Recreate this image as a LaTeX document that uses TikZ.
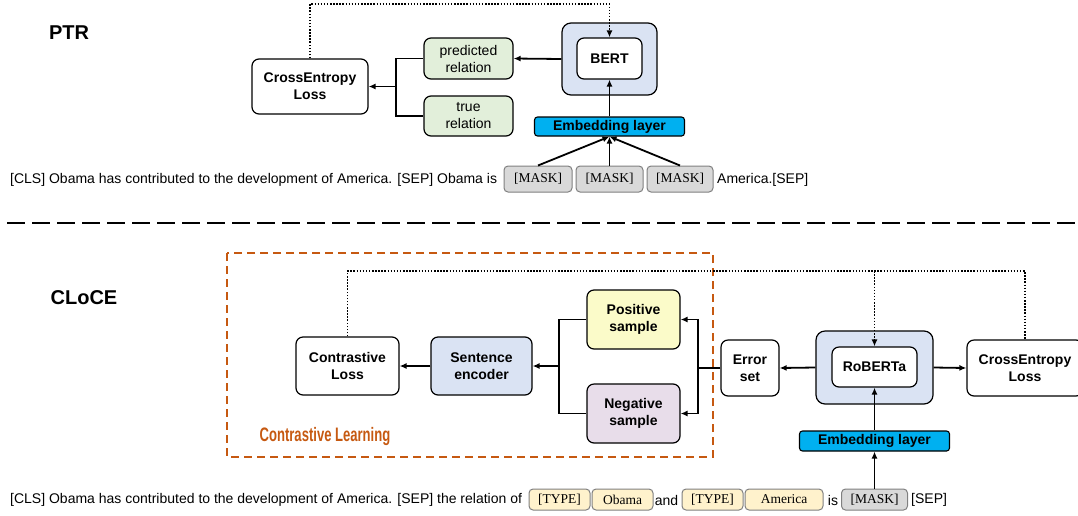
\documentclass[tikz,border=0pt]{standalone}
\usepackage{fontspec}
\setmainfont{Liberation Sans}
\newfontfamily\tnr{Liberation Serif}
\usetikzlibrary{arrows.meta}
\definecolor{bluefill}{HTML}{DAE3F3}
\definecolor{embcyan}{HTML}{00B0F0}
\definecolor{greenfill}{HTML}{E2EFDA}
\definecolor{yellowfill}{HTML}{FBFBC9}
\definecolor{purplefill}{HTML}{E8DDEA}
\definecolor{typefill}{HTML}{FFF2CC}
\definecolor{maskfill}{HTML}{D9D9D9}
\definecolor{greyborder}{HTML}{808080}
\definecolor{orangeline}{HTML}{C65911}
\tikzset{
  box/.style={draw=black, line width=1.2pt, rounded corners=7pt, align=center, inner sep=0pt,
    font=\fontsize{14}{17}\selectfont\bfseries, fill=white},
  plainbox/.style={box, font=\fontsize{14}{17}\selectfont},
  embbox/.style={draw=black, line width=1.1pt, rounded corners=3pt, fill=embcyan, inner sep=0pt,
    font=\fontsize{14}{16}\selectfont\bfseries},
  tokbox/.style={draw=greyborder, line width=1pt, rounded corners=4pt, inner sep=0pt,
    font=\fontsize{13.5}{15}\selectfont\tnr},
  masktok/.style={tokbox, fill=maskfill},
  typetok/.style={tokbox, fill=typefill},
  sent/.style={inner sep=0pt, font=\fontsize{14}{16}\selectfont},
  title/.style={inner sep=0pt, font=\fontsize{20}{22}\selectfont\bfseries},
  arr/.style={line width=1.8pt, -{Latex[length=7pt,width=6pt]}},
  ln/.style={line width=1.8pt},
  dotln/.style={line width=1.5pt, dash pattern=on 1.5pt off 1.6pt},
  dotarr/.style={dotln, -{Latex[length=7pt,width=6pt]}},
}
\begin{document}
\begin{tikzpicture}[x=1pt,y=-1pt]
\useasboundingbox (0,0) rectangle (1078,515);
\clip (0,0) rectangle (1078,515);

% ---------------- PTR ----------------
\node[title] (ptr) at (69,33) {PTR};
\node[box, fill=bluefill, rounded corners=9pt, minimum width=95pt, minimum height=72pt] (bertout) at (609.5,59) {};
\node[box, minimum width=65pt, minimum height=41pt] (bert) at (609.5,58.5) {BERT};
\node[plainbox, fill=greenfill, minimum width=89pt, minimum height=41pt] (pred) at (468.5,58.5) {predicted\\relation};
\node[plainbox, fill=greenfill, minimum width=89pt, minimum height=40pt] (true) at (468.5,116) {true\\relation};
\node[box, minimum width=116pt, minimum height=55pt] (ce1) at (310,86.5) {CrossEntropy\\Loss};
\node[embbox, minimum width=150pt, minimum height=19pt] (emb1) at (609.5,126.5) {Embedding layer};
\node[masktok, minimum width=68pt, minimum height=26pt] (mask1) at (538,179) {[MASK]};
\node[masktok, minimum width=67pt, minimum height=26pt] (mask2) at (609.5,179) {[MASK]};
\node[masktok, minimum width=66pt, minimum height=26pt] (mask3) at (680,179) {[MASK]};
\node[sent, anchor=west] (s1) at (10,180) {[CLS] Obama has contributed to the development of America. [SEP] Obama is};
\node[sent, anchor=west] (s1b) at (717,180) {America.[SEP]};

\coordinate (top1) at (0,4);
\draw[dotarr] (ce1.north) -- (ce1.north |- top1) -| (bert.north);
\draw[arr] (bertout.west) -- (pred.east);
\coordinate (j1) at (396,86.5);
\draw[ln] (pred.west) -| (j1) |- (true.west);
\draw[arr] (j1) -- (ce1.east);
\draw[arr] (emb1.north) -- (bert.south);
\draw[arr] (mask1.north) -- (emb1.south);
\draw[arr] (mask2.north) -- (emb1.south);
\draw[arr] (mask3.north) -- (emb1.south);

% separator
\coordinate (sepL) at (7,223);
\coordinate (sepR) at (1078,223);
\draw[line width=1.8pt, dash pattern=on 18pt off 7pt] (sepL) -- (sepR);

% ---------------- CLoCE ----------------
\node[title] (cloce) at (84,298) {CLoCE};
\draw[orangeline, line width=1.8pt, dash pattern=on 8pt off 5pt] (227,253) rectangle (713,457);
\node[inner sep=0pt, text=orangeline, font=\fontsize{19.5}{20}\selectfont\bfseries] (cllabel) at (325,436) {\scalebox{0.67}[1]{Contrastive Learning}};

\node[box, minimum width=103pt, minimum height=58pt] (closs) at (347.5,366) {Contrastive\\Loss};
\node[box, fill=bluefill, minimum width=101pt, minimum height=58pt] (senc) at (481.5,366) {Sentence\\encoder};
\node[box, fill=yellowfill, minimum width=93pt, minimum height=59pt] (pos) at (633.5,319.5) {Positive\\sample};
\node[box, fill=purplefill, minimum width=93pt, minimum height=59pt] (neg) at (633.5,413.5) {Negative\\sample};
\node[box, minimum width=58pt, minimum height=56pt] (err) at (750,368) {Error\\set};
\node[box, fill=bluefill, rounded corners=9pt, minimum width=117pt, minimum height=73pt] (robout) at (874.5,367.5) {};
\node[box, minimum width=85pt, minimum height=40pt] (rob) at (874.5,367) {RoBERTa};
\node[box, minimum width=116pt, minimum height=56pt] (ce2) at (1025,368) {CrossEntropy\\Loss};
\node[embbox, minimum width=150pt, minimum height=20pt] (emb2) at (874.5,441) {Embedding layer};

\node[sent, anchor=west] (s2) at (10,500) {[CLS] Obama has contributed to the development of America. [SEP] the relation of};
\node[typetok, minimum width=61pt, minimum height=21pt] (type1) at (559.5,499.5) {[TYPE]};
\node[typetok, minimum width=61pt, minimum height=21pt] (obama) at (622.5,499.5) {Obama};
\node[sent] (and) at (666.5,500) {and};
\node[typetok, minimum width=61pt, minimum height=21pt] (type2) at (712.5,499.5) {[TYPE]};
\node[typetok, minimum width=78pt, minimum height=21pt] (america) at (784,499.5) {America};
\node[sent] (is) at (833,500) {is};
\node[masktok, minimum width=66pt, minimum height=21pt] (mask4) at (874.5,499.5) {[MASK]};
\node[sent, anchor=west] (sep2) at (911,500) {[SEP]};

\coordinate (top2) at (0,271);
\draw[dotln] (closs.north) -- (closs.north |- top2) -| (ce2.north);
\draw[dotarr] (rob.north |- top2) -- (rob.north);
\draw[arr] (senc.west) -- (closs.east);
\coordinate (j2) at (559,366);
\draw[ln] (pos.west) -| (j2) |- (neg.west);
\draw[arr] (j2) -- (senc.east);
\coordinate (j3) at (698,368);
\draw[ln] (err.west) -- (j3);
\draw[arr] (j3) |- (pos.east);
\draw[arr] (j3) |- (neg.east);
\draw[arr] (robout.west) -- (err.east);
\draw[arr] (robout.east) -- (ce2.west);
\draw[arr] (emb2.north) -- (rob.south);
\draw[arr] (mask4.north) -- (emb2.south);
\end{tikzpicture}
\end{document}
